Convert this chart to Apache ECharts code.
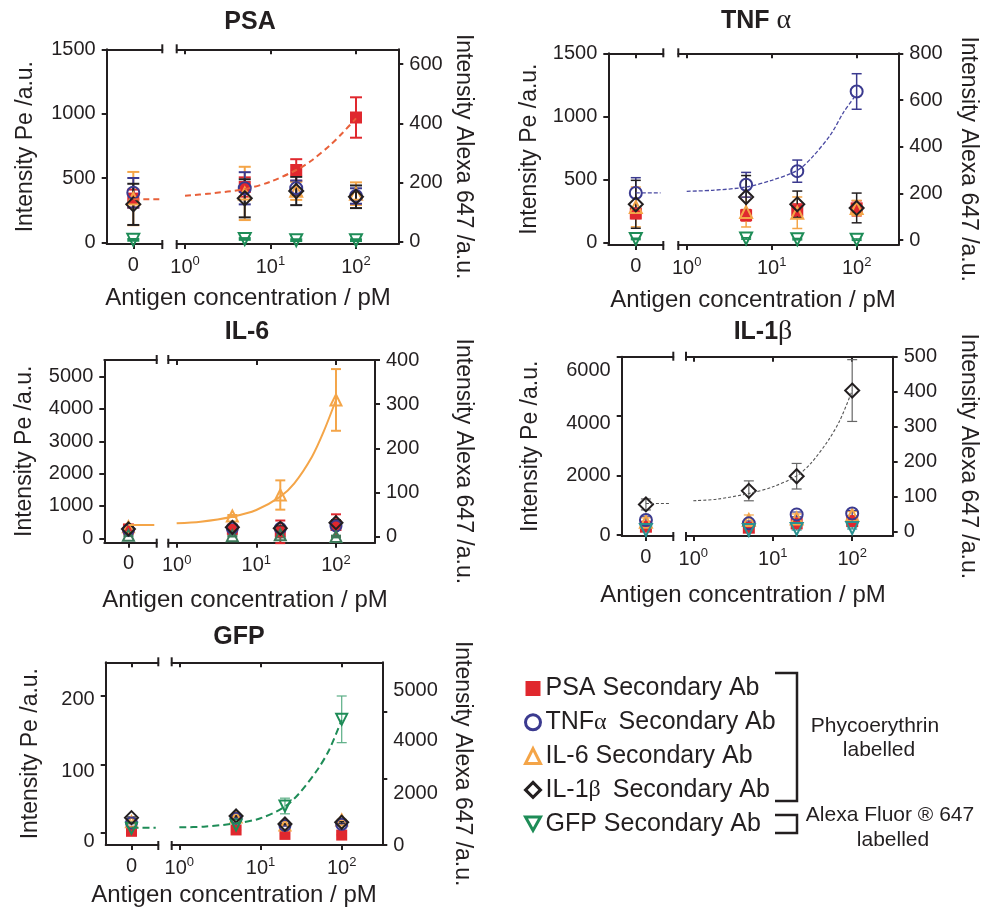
<!DOCTYPE html>
<html>
<head>
<meta charset="utf-8">
<script src="https://cdn.jsdelivr.net/npm/echarts@6/dist/echarts.min.js"></script>
<style>
  html, body { margin: 0; background: #fff; }
  #chart { width: 990px; height: 909px; }
</style>
</head>
<body>
<div id="chart"></div>
<script>
const FONT = '"Liberation Sans", Arial, Helvetica, sans-serif';
const SERIF = '"Liberation Serif", "DejaVu Serif", serif';
const INK = '#231f20';
const CLEAR = 'rgba(0,0,0,0)';

// concentrations in pM; 0 pM sits on the short left piece of each broken axis
const concentrations = [0, 5, 20, 100];
const fitConc = [1, 2, 5, 10, 20, 30, 50, 70, 100];
const logTicks = [1, 10, 100];
const abNames = ['PSA Secondary Ab', 'TNFα Secondary Ab', 'IL-6 Secondary Ab', 'IL-1β Secondary Ab', 'GFP Secondary Ab'];

// ---- PSA panel (GFP is read on the Alexa 647 axis) ----
const psaPSA = [340, 430, 562, 970];
const psaPSAErr = [70, 75, 84, 157];
const psaTNF = [385, 420, 420, 360];
const psaTNFErr = [115, 125, 60, 60];
const psaIL6 = [340, 380, 400, 378];
const psaIL6Err = [207, 207, 70, 88];
const psaIL1b = [295, 342, 399, 354];
const psaIL1bErr = [160, 148, 110, 88];
const psaGFP = [6, 9, 5, 5];
const psaGFPErr = [3, 3, 3, 3];
const psaFitZero = 334;
const psaFit = [362, 380, 414, 471, 562, 634, 756, 852, 963];
const psaPeTicks = [0, 500, 1000, 1500];
const psaAlexaTicks = [0, 200, 400, 600];

// ---- TNFα panel ----
const tnfPSA = [229, 215, 255, 270];
const tnfPSAErr = [40, 45, 50, 60];
const tnfTNF = [392, 457, 565, 1197];
const tnfTNFErr = [121, 98, 88, 141];
const tnfIL6 = [281, 240, 235, 273];
const tnfIL6Err = [158, 118, 125, 60];
const tnfIL1b = [302, 360, 302, 273];
const tnfIL1bErr = [190, 170, 105, 118];
const tnfGFP = [5, 7, 4, 2];
const tnfGFPErr = [3, 3, 3, 3];
const tnfFitZero = 392;
const tnfFit = [405, 413, 439, 492, 571, 676, 860, 1031, 1176];
const tnfPeTicks = [0, 500, 1000, 1500];
const tnfAlexaTicks = [0, 200, 400, 600, 800];

// ---- IL-6 panel ----
const il6PSA = [288, 280, 200, 396];
const il6PSAErr = [90, 80, 350, 346];
const il6TNF = [257, 310, 309, 380];
const il6TNFErr = [60, 60, 60, 60];
const il6IL6 = [360, 690, 1339, 4280];
const il6IL6Err = [60, 30, 453, 954];
const il6IL1b = [288, 340, 309, 483];
const il6IL1bErr = [50, 60, 60, 80];
const il6GFP = [3, 2, 4, 0];
const il6GFPErr = [2, 2, 6, 2];
const il6FitZero = 411;
const il6Fit = [463, 514, 669, 875, 1288, 1701, 2525, 3298, 4278];
const il6PeTicks = [0, 1000, 2000, 3000, 4000, 5000];
const il6AlexaTicks = [0, 100, 200, 300, 400];

// ---- IL-1β panel ----
const il1bPSA = [279, 246, 391, 469];
const il1bPSAErr = [60, 60, 60, 80];
const il1bTNF = [503, 391, 693, 726];
const il1bTNFErr = [130, 80, 80, 100];
const il1bIL6 = [447, 503, 559, 670];
const il1bIL6Err = [130, 170, 150, 120];
const il1bIL1b = [1028, 1486, 1978, 4861];
const il1bIL1bErr = [185, 335, 430, 1040];
const il1bGFP = [5, 5, 8, 11];
const il1bGFPErr = [3, 3, 3, 3];
const il1bFitZero = 1062;
const il1bFit = [1151, 1207, 1397, 1620, 1989, 2402, 3185, 3855, 4861];
const il1bPeTicks = [0, 2000, 4000, 6000];
const il1bPeLabelAt = [0, 2000, 3744, 5531];
const il1bPeLabels = ['0', '2000', '4000', '6000'];
const il1bAlexaTicks = [0, 100, 200, 300, 400, 500];

// ---- GFP panel (GFP and its fit on the Alexa 647 axis) ----
const gfpPSA = [2, 4, -2.5, -3.5];
const gfpPSAErr = [1, 1, 1, 1];
const gfpTNF = [14, 21, 10.5, 12.2];
const gfpTNFErr = [1, 1, 1, 1];
const gfpIL6 = [16, 23, 11.3, 18.5];
const gfpIL6Err = [1, 1, 1, 1];
const gfpIL1b = [22, 24.4, 12.7, 15.2];
const gfpIL1bErr = [1, 1, 1, 1];
const gfpGFP = [500, 600, 1170, 3770];
const gfpGFPErr = [60, 80, 235, 700];
const gfpFitZero = 521;
const gfpFit = [531, 551, 651, 801, 1151, 1551, 2251, 2851, 3751];
const gfpPeTicks = [0, 100, 200];
const gfpPeLabelAt = [-13, 89, 194];
const gfpPeLabels = ['0', '100', '200'];
const gfpAlexaTicks = [0, 2000, 4000];
const gfpAlexaLabelAt = [0, 1551, 3150, 4650];
const gfpAlexaLabels = ['0', '2000', '4000', '5000'];

const abColors = ['#e0282e', '#3b3a8f', '#f4a548', INK, '#1e8c57'];
const abSymbols = ['rect', 'circle', 'triangle', 'diamond', 'triangle'];
const drawOrder = [0, 2, 1, 4, 3];

const str = a => a.map(String);

const panels = [
  {
    title: 'PSA', values: [psaPSA, psaTNF, psaIL6, psaIL1b, psaGFP],
    errors: [psaPSAErr, psaTNFErr, psaIL6Err, psaIL1bErr, psaGFPErr],
    fitZero: psaFitZero, fit: psaFit, fitOnAlexa: false,
    fitStyle: { color: '#e8603a', width: 2, type: [6, 4] },
    peTicks: psaPeTicks, peLabelAt: psaPeTicks, peLabels: str(psaPeTicks),
    alexaTicks: psaAlexaTicks, alexaLabelAt: psaAlexaTicks, alexaLabels: str(psaAlexaTicks),
    box: { top: 49.3, bottom: 244, l0: 106.7, l1: 162.3, r0: 176.7, r1: 398.3 },
    pe: [-13, 1500], alexa: [-8, 650], logR: [-0.097, 2.495], zeroMax: 1.09,
    titleXY: [250, 22], nameXY: [248, 298], peGap: 70, alexaGap: 54,
    errW: 2, cap: 6, size: 12, topZeroTick: false
  },
  {
    title: 'TNF {g|α}', values: [tnfPSA, tnfTNF, tnfIL6, tnfIL1b, tnfGFP],
    errors: [tnfPSAErr, tnfTNFErr, tnfIL6Err, tnfIL1bErr, tnfGFPErr],
    fitZero: tnfFitZero, fit: tnfFit, fitOnAlexa: false,
    fitStyle: { color: '#4a4aa2', width: 1.3, type: [4, 2] },
    peTicks: tnfPeTicks, peLabelAt: tnfPeTicks, peLabels: str(tnfPeTicks),
    alexaTicks: tnfAlexaTicks, alexaLabelAt: tnfAlexaTicks, alexaLabels: str(tnfAlexaTicks),
    box: { top: 53.3, bottom: 245, l0: 608.3, l1: 663.3, r0: 678.3, r1: 898.3 },
    pe: [-21, 1500], alexa: [-21, 800], logR: [-0.099, 2.49], zeroMax: 1.0,
    titleXY: [756, 21], nameXY: [753, 300], peGap: 67, alexaGap: 59,
    errW: 1.5, cap: 5, size: 12, topZeroTick: true
  },
  {
    title: 'IL-6', values: [il6PSA, il6TNF, il6IL6, il6IL1b, il6GFP],
    errors: [il6PSAErr, il6TNFErr, il6IL6Err, il6IL1bErr, il6GFPErr],
    fitZero: il6FitZero, fit: il6Fit, fitOnAlexa: false,
    fitStyle: { color: '#f4a548', width: 2, type: 'solid' },
    peTicks: il6PeTicks, peLabelAt: il6PeTicks, peLabels: str(il6PeTicks),
    alexaTicks: il6AlexaTicks, alexaLabelAt: il6AlexaTicks, alexaLabels: str(il6AlexaTicks),
    box: { top: 360, bottom: 542.7, l0: 104.3, l1: 156.7, r0: 168.3, r1: 375 },
    pe: [-136, 5515], alexa: [-14, 400], logR: [-0.105, 2.49], zeroMax: 1.17,
    titleXY: [247, 332], nameXY: [245, 600], peGap: 68, alexaGap: 77,
    errW: 2, cap: 5, size: 11, topZeroTick: false,
    gfpColor: '#3d7a5a', gfpRotate: 0
  },
  {
    title: 'IL-1{g|β}', values: [il1bPSA, il1bTNF, il1bIL6, il1bIL1b, il1bGFP],
    errors: [il1bPSAErr, il1bTNFErr, il1bIL6Err, il1bIL1bErr, il1bGFPErr],
    fitZero: il1bFitZero, fit: il1bFit, fitOnAlexa: false,
    fitStyle: { color: '#555555', width: 1.1, type: [3, 2] },
    peTicks: il1bPeTicks, peLabelAt: il1bPeLabelAt, peLabels: il1bPeLabels,
    alexaTicks: il1bAlexaTicks, alexaLabelAt: il1bAlexaTicks, alexaLabels: str(il1bAlexaTicks),
    box: { top: 356.7, bottom: 536, l0: 621.7, l1: 673.3, r0: 686, r1: 892.7 },
    pe: [-34, 6000], alexa: [-12, 500], logR: [-0.092, 2.51], zeroMax: 1.13,
    titleXY: [763, 332], nameXY: [743, 595], peGap: 80, alexaGap: 64,
    errW: 1.2, cap: 5, size: 12, topZeroTick: false,
    gfpColor: '#2a9090', blackErr: '#666666'
  },
  {
    title: 'GFP', values: [gfpPSA, gfpTNF, gfpIL6, gfpIL1b, gfpGFP],
    errors: [gfpPSAErr, gfpTNFErr, gfpIL6Err, gfpIL1bErr, gfpGFPErr],
    fitZero: gfpFitZero, fit: gfpFit, fitOnAlexa: true,
    fitStyle: { color: '#1e8c57', width: 2, type: [7, 4] },
    peTicks: gfpPeTicks, peLabelAt: gfpPeLabelAt, peLabels: gfpPeLabels,
    alexaTicks: gfpAlexaTicks, alexaLabelAt: gfpAlexaLabelAt, alexaLabels: gfpAlexaLabels,
    box: { top: 662.3, bottom: 845, l0: 105.7, l1: 158.3, r0: 171.7, r1: 382.3 },
    pe: [-18, 249], alexa: [0, 5481], logR: [-0.094, 2.5], zeroMax: 1.04,
    titleXY: [239, 637], nameXY: [234, 895], peGap: 64, alexaGap: 69,
    errW: 1.2, cap: 5, size: 11, topZeroTick: true,
    gfpErr: '#5aae85'
  }
];

const axisLine = { show: true, onZero: false, lineStyle: { color: INK, width: 2 } };
const noSplit = { show: false };
const labelFont = { fontSize: 20, color: INK, fontFamily: FONT };
const nameFont = { fontSize: 23, color: INK, fontFamily: FONT };

function tick(vals, inside) {
  return { show: vals.length > 0, customValues: vals, inside: inside, length: 5,
    lineStyle: { color: INK, width: 2 } };
}

function labelsAt(at, texts) {
  return Object.assign({
    customValues: at, margin: 11,
    formatter: v => {
      const k = at.findIndex(a => Math.abs(a - v) < 1e-6);
      return k < 0 ? '' : texts[k];
    }
  }, labelFont);
}

function errorBars(xIdx, yIdx, xs, vals, errs, color, width, cap) {
  return {
    type: 'custom', xAxisIndex: xIdx, yAxisIndex: yIdx, silent: true,
    data: xs.map((x, k) => [x, vals[k] - errs[k], vals[k] + errs[k]]),
    renderItem(params, api) {
      const lo = api.coord([api.value(0), api.value(1)]);
      const hi = api.coord([api.value(0), api.value(2)]);
      const st = { stroke: color, lineWidth: width };
      return {
        type: 'group', children: [
          { type: 'line', shape: { x1: lo[0], y1: lo[1], x2: hi[0], y2: hi[1] }, style: st },
          { type: 'line', shape: { x1: lo[0] - cap, y1: lo[1], x2: lo[0] + cap, y2: lo[1] }, style: st },
          { type: 'line', shape: { x1: hi[0] - cap, y1: hi[1], x2: hi[0] + cap, y2: hi[1] }, style: st }
        ]
      };
    }
  };
}

// short bars across the top and bottom lines where the x axis is broken
function breakMarks(xIdx, yIdx, edge, yRange) {
  return {
    type: 'custom', xAxisIndex: xIdx, yAxisIndex: yIdx, silent: true,
    data: [[edge, yRange[1]]],
    renderItem(params, api) {
      const t = api.coord([edge, yRange[1]]);
      const b = api.coord([edge, yRange[0]]);
      const st = { stroke: INK, lineWidth: 2 };
      return {
        type: 'group', children: [
          { type: 'line', shape: { x1: t[0], y1: t[1] - 5, x2: t[0], y2: t[1] + 4 }, style: st },
          { type: 'line', shape: { x1: b[0], y1: b[1] - 4, x2: b[0], y2: b[1] + 5 }, style: st }
        ]
      };
    }
  };
}

// legend entries take the look of the PSA panel markers; GFP uses a downward triangle
const legendIcons = ['rect', 'circle', 'triangle', 'diamond', 'path://M0,0L10,0L5,9Z'];
const legendData = abNames.map((name, a) => ({
  name: name,
  icon: legendIcons[a],
  itemStyle: {
    color: a === 0 ? abColors[a] : CLEAR,
    borderColor: abColors[a],
    borderWidth: a === 0 ? 0 : 3,
    opacity: 1
  }
}));

const option = {
  animation: false,
  backgroundColor: '#ffffff',
  grid: [], xAxis: [], yAxis: [], series: [], graphic: [],
  legend: {
    data: legendData, orient: 'vertical', left: 519, top: 671,
    itemWidth: 15, itemHeight: 15, itemGap: 8.8, selectedMode: false,
    formatter: name => name.replace(/([αβ]) /, '{g|$1} '),
    textStyle: {
      fontSize: 25, fontFamily: FONT, color: INK, lineHeight: 25,
      rich: { g: { fontSize: 24, fontFamily: SERIF, color: INK, lineHeight: 25, padding: [0, 5, 0, 0] } }
    }
  }
};

panels.forEach((p, i) => {
  const b = p.box;
  const g0 = 2 * i, g1 = 2 * i + 1;
  const x0 = 4 * i, x1 = 4 * i + 2;
  const yPe0 = 4 * i, yAx0 = 4 * i + 1, yPe1 = 4 * i + 2, yAx1 = 4 * i + 3;
  const logMin = Math.pow(10, p.logR[0]);
  const logMax = Math.pow(10, p.logR[1]);

  option.grid.push(
    { left: b.l0, top: b.top, width: b.l1 - b.l0, height: b.bottom - b.top },
    { left: b.r0, top: b.top, width: b.r1 - b.r0, height: b.bottom - b.top }
  );

  option.xAxis.push(
    { gridIndex: g0, type: 'value', min: -1, max: p.zeroMax, axisLine: axisLine,
      axisTick: tick([0], false), axisLabel: labelsAt([0], ['0']), splitLine: noSplit },
    { gridIndex: g0, type: 'value', position: 'top', min: -1, max: p.zeroMax, axisLine: axisLine,
      axisTick: tick(p.topZeroTick ? [0] : [], true), axisLabel: { show: false }, splitLine: noSplit },
    { gridIndex: g1, type: 'log', min: logMin, max: logMax, axisLine: axisLine,
      axisTick: tick(logTicks, false), splitLine: noSplit,
      axisLabel: {
        customValues: logTicks, margin: 11,
        formatter: v => '{b|10}{s|' + Math.round(Math.log10(v)) + '}',
        rich: {
          b: { fontSize: 20, fontFamily: FONT, color: INK, lineHeight: 22, verticalAlign: 'bottom' },
          s: { fontSize: 13, fontFamily: FONT, color: INK, lineHeight: 22, verticalAlign: 'top' }
        }
      } },
    { gridIndex: g1, type: 'log', position: 'top', min: logMin, max: logMax, axisLine: axisLine,
      axisTick: tick(logTicks, true), axisLabel: { show: false }, splitLine: noSplit }
  );

  option.yAxis.push(
    { gridIndex: g0, type: 'value', position: 'left', min: p.pe[0], max: p.pe[1], axisLine: axisLine,
      axisTick: tick(p.peTicks, false), axisLabel: labelsAt(p.peLabelAt, p.peLabels), splitLine: noSplit,
      name: 'Intensity Pe /a.u.', nameLocation: 'middle', nameGap: p.peGap, nameRotate: 90,
      nameTextStyle: nameFont },
    { gridIndex: g0, type: 'value', min: p.alexa[0], max: p.alexa[1], show: false, splitLine: noSplit },
    { gridIndex: g1, type: 'value', min: p.pe[0], max: p.pe[1], show: false, splitLine: noSplit },
    { gridIndex: g1, type: 'value', position: 'right', min: p.alexa[0], max: p.alexa[1], axisLine: axisLine,
      axisTick: tick(p.alexaTicks, false), axisLabel: labelsAt(p.alexaLabelAt, p.alexaLabels), splitLine: noSplit,
      name: 'Intensity Alexa 647 /a.u.', nameLocation: 'middle', nameGap: p.alexaGap, nameRotate: -90,
      nameTextStyle: Object.assign({ padding: [0, 0, 0, 20] }, nameFont) }
  );

  option.series.push(
    breakMarks(x0, yPe0, p.zeroMax, p.pe),
    breakMarks(x1, yPe1, logMin, p.pe)
  );

  // fitted curve: flat piece at 0 pM, rising piece on the log axis
  const fy0 = p.fitOnAlexa ? yAx0 : yPe0;
  const fy1 = p.fitOnAlexa ? yAx1 : yPe1;
  const fitLine = { color: p.fitStyle.color, width: p.fitStyle.width, type: p.fitStyle.type };
  option.series.push(
    { type: 'line', xAxisIndex: x0, yAxisIndex: fy0, silent: true, showSymbol: false, lineStyle: fitLine,
      data: [[0, p.fitZero], [p.zeroMax - 0.1, p.fitZero]] },
    { type: 'line', xAxisIndex: x1, yAxisIndex: fy1, silent: true, showSymbol: false, smooth: 0.3, lineStyle: fitLine,
      data: fitConc.map((c, k) => [c, p.fit[k]]) }
  );

  drawOrder.forEach(a => {
    const onAlexa = a === 4;
    let color = abColors[a];
    if (a === 4 && p.gfpColor) color = p.gfpColor;
    let errColor = color;
    if (a === 3 && p.blackErr) errColor = p.blackErr;
    if (a === 4 && p.gfpErr) errColor = p.gfpErr;
    const vals = p.values[a];
    const errs = p.errors[a];
    const rotate = a === 4 ? (p.gfpRotate !== undefined ? p.gfpRotate : 180) : 0;
    const size = a === 3 ? p.size + 2 : p.size;
    const style = {
      color: a === 0 ? color : CLEAR, borderColor: color, borderWidth: a === 0 ? 0 : 2, opacity: 1
    };
    const parts = [
      { xi: x0, yi: onAlexa ? yAx0 : yPe0, xs: concentrations.slice(0, 1), v: vals.slice(0, 1), e: errs.slice(0, 1) },
      { xi: x1, yi: onAlexa ? yAx1 : yPe1, xs: concentrations.slice(1), v: vals.slice(1), e: errs.slice(1) }
    ];
    parts.forEach(part => {
      option.series.push(errorBars(part.xi, part.yi, part.xs, part.v, part.e, errColor, p.errW, p.cap));
      option.series.push({
        type: 'scatter', name: abNames[a], xAxisIndex: part.xi, yAxisIndex: part.yi,
        symbol: abSymbols[a], symbolSize: size, symbolRotate: rotate,
        itemStyle: style, silent: true,
        data: part.xs.map((x, k) => [x, part.v[k]])
      });
    });
  });

  option.graphic.push(
    { type: 'text', x: p.titleXY[0], y: p.titleXY[1], silent: true,
      style: { text: p.title, fontSize: 25, fontWeight: 'bold', fontFamily: FONT, fill: INK,
        align: 'center', verticalAlign: 'middle',
        rich: { g: { fontSize: 28, fontWeight: 'normal', fontFamily: SERIF, fill: INK } } } },
    { type: 'text', x: p.nameXY[0], y: p.nameXY[1], silent: true,
      style: { text: 'Antigen concentration / pM', fontSize: 24, fontFamily: FONT, fill: INK,
        align: 'center', verticalAlign: 'middle' } }
  );
});

// brackets and group labels beside the legend
const bracketStyle = { stroke: INK, lineWidth: 2.5, fill: null };
option.graphic.push(
  { type: 'polyline', silent: true, shape: { points: [[775, 673], [797, 673], [797, 801], [775, 801]] }, style: bracketStyle },
  { type: 'polyline', silent: true, shape: { points: [[775, 815], [797, 815], [797, 833], [775, 833]] }, style: bracketStyle }
);
[['Phycoerythrin', 875, 726], ['labelled', 879, 750], ['Alexa Fluor ® 647', 890, 815], ['labelled', 893, 840]]
  .forEach(t => option.graphic.push({
    type: 'text', x: t[1], y: t[2], silent: true,
    style: { text: t[0], fontSize: 21, fontFamily: FONT, fill: INK, align: 'center', verticalAlign: 'middle' }
  }));

const chart = echarts.init(document.getElementById('chart'), null, { renderer: 'canvas' });
chart.setOption(option);
</script>
</body>
</html>
